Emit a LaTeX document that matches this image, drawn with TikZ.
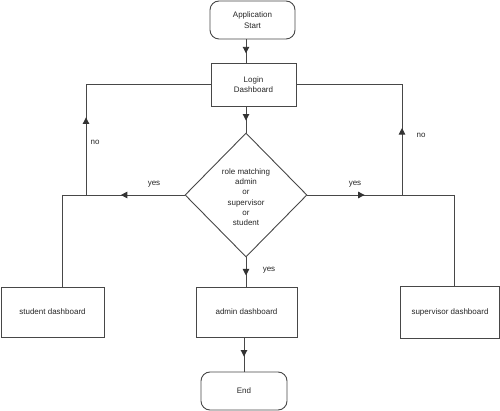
\documentclass[tikz,border=0pt]{standalone}
\usepackage{fontspec}
\setmainfont{Liberation Sans}
\usetikzlibrary{shapes.geometric,arrows.meta,decorations.markings}
\tikzset{
  lc/.style={draw=black!72, line width=0.9pt},
  txt/.style={font=\fontsize{8}{10.3}\selectfont, text=black!85, align=center, inner sep=0pt},
  box/.style={lc, rectangle, txt, inner sep=0pt},
  term/.style={box, rounded corners=9pt},
  dia/.style={lc, diamond, minimum width=122pt, minimum height=124pt, inner sep=0pt},
  conn/.style={lc},
  arr/.style={lc, postaction={decorate, decoration={markings, mark=at position #1 with {\arrow[black!80]{Triangle[length=6.5pt,width=6.5pt]}}}}},
  lab/.style={txt}
}
\begin{document}
\begin{tikzpicture}[x=1pt,y=-1pt]
\useasboundingbox (0,0) rectangle (500,411);
% nodes
\node[term, minimum width=85pt, minimum height=38pt] (start) at (252.5,20) {Application\\Start};
\node[box, minimum width=85pt, minimum height=43pt] (login) at (253.5,84.5) {Login\\Dashboard};
\node[dia] (d) at (246,195) {};
\node[txt] (dtext) at (246,197) {role matching\\admin\\or\\supervisor\\or\\student};
\node[box, minimum width=103pt, minimum height=50pt] (student) at (52.5,312) {student dashboard};
\node[box, minimum width=101pt, minimum height=50pt] (admin) at (246.5,312) {admin dashboard};
\node[box, minimum width=99pt, minimum height=52pt] (sup) at (450,312) {supervisor dashboard};
\node[term, minimum width=86pt, minimum height=38pt] (endn) at (244,391) {End};
% junctions
\coordinate (lj) at (62,195);
\coordinate (ln) at (86,195);
\coordinate (rn) at (402,195);
\coordinate (rj) at (454,195);
% connectors
\draw[arr=0.6] (start.south -| d.north) -- (login.north -| d.north);
\draw[arr=0.54] (login.south -| d.north) -- (d.north);
\draw[arr=0.52] (d.west) -- (lj);
\draw[conn] (lj) -- (lj |- student.north);
\draw[arr=0.33] (ln) |- (login.west);
\draw[arr=0.39] (d.east) -- (rj);
\draw[conn] (rj) -- (rj |- sup.north);
\draw[arr=0.31] (rn) |- (login.east);
\draw[arr=0.62] (d.south) -- (d.south |- admin.north);
\draw[arr=0.56] (admin.south -| endn.north) -- (endn.north);
% labels
\node[lab] (l1) at (95,142) {no};
\node[lab] (l2) at (154,184) {yes};
\node[lab] (l3) at (355,184) {yes};
\node[lab] (l4) at (421,135) {no};
\node[lab] (l5) at (269,270) {yes};
\end{tikzpicture}
\end{document}
